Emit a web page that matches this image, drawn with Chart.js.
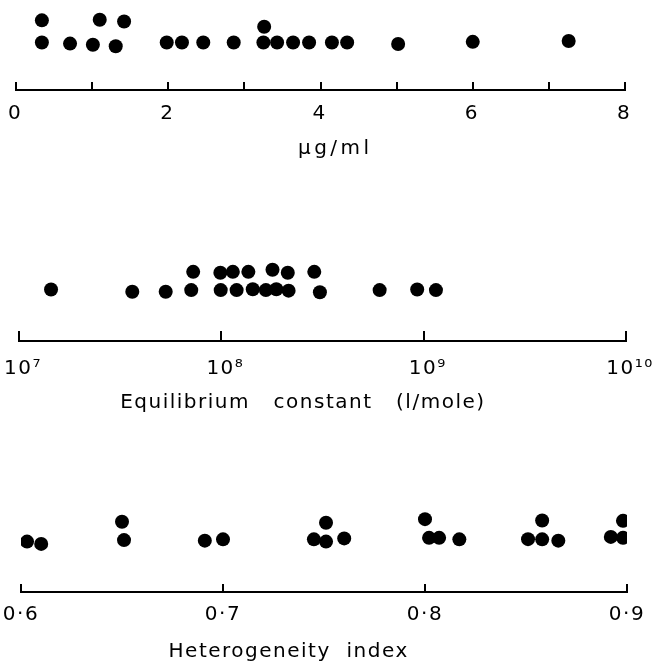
<!DOCTYPE html>
<html>
<head>
<meta charset="utf-8">
<script src="https://cdn.jsdelivr.net/npm/chart.js@4.4.1/dist/chart.umd.min.js"></script>
<style>
  html, body { margin: 0; padding: 0; background: #fff; overflow: hidden; }
  body { width: 655px; height: 661px; position: relative; }
  canvas { position: absolute; left: 0; }
</style>
</head>
<body>
<canvas id="c1" width="655" height="163" style="top:0"></canvas>
<canvas id="c2" width="655" height="252" style="top:165px"></canvas>
<canvas id="c3" width="655" height="246" style="top:420px"></canvas>
<script>
// ---- data ----
// top panel: concentration (µg/ml); row = stacking level of each dot
const concX   = [0.34, 0.71, 1.01, 1.31, 1.98, 2.18, 2.46, 2.86, 3.25, 3.43, 3.64, 3.85, 4.15, 4.35, 5.02, 6.00, 7.26,
                 0.34, 1.10, 1.42, 3.26];
const concRow = [0, -0.05, -0.1, -0.17, 0, 0, 0, 0, 0, 0, 0, 0, 0, 0, -0.07, 0.03, 0.07,
                 1, 1.03, 0.95, 0.71];
const concTickLabels = ['0', '', '2', '', '4', '', '6', '', '8'];

// middle panel: equilibrium constant (l/mole), log scale
const kX   = [1.44e7, 3.63e7, 5.31e7, 7.10e7, 9.93e7, 1.19e8, 1.43e8, 1.66e8, 1.87e8, 2.15e8, 3.07e8, 6.06e8, 9.29e8, 1.15e9,
              7.26e7, 9.89e7, 1.14e8, 1.36e8, 1.79e8, 2.13e8, 2.88e8];
const kRow = [0.03, -0.09, -0.09, 0, 0, 0, 0.05, 0, 0.05, -0.03, -0.12, 0, 0.03, 0,
              1, 0.95, 1, 1, 1.12, 0.95, 1];
const kDecades    = [1e7, 1e8, 1e9, 1e10];
const kTickLabels = ['10⁷', '10⁸', '10⁹', '10¹⁰'];

// bottom panel: heterogeneity index
const hetX   = [0.603, 0.610, 0.651, 0.691, 0.700, 0.745, 0.751, 0.760, 0.802, 0.807, 0.817, 0.851, 0.858, 0.866, 0.892, 0.898,
                0.650, 0.751, 0.800, 0.858, 0.898];
const hetRow = [-0.05, -0.17, 0.03, 0, 0.07, 0.07, -0.05, 0.12, 0.15, 0.15, 0.07, 0.08, 0.07, 0, 0.2, 0.15,
                1, 0.95, 1.14, 1.07, 1.05];
const hetTickLabels = ['0·6', '0·7', '0·8', '0·9'];

const FONT = "'DejaVu Sans', sans-serif";

// the lettering on the original is widely spaced
const spacing = {
  id: 'spacing',
  beforeLayout(chart, args, opts) { chart.ctx.letterSpacing = opts.value; },
  beforeDraw(chart, args, opts) { chart.ctx.letterSpacing = opts.value; }
};

// titles are not centred under the axis in the original: nudge with spaces
function shifted(text, n) {
  return n > 0 ? ' '.repeat(n) + text : text + ' '.repeat(-n);
}

function xAxis(o) {
  return {
    type: o.type,
    position: 'bottom',
    min: o.min,
    max: o.max,
    afterBuildTicks: o.afterBuildTicks,
    afterFit(s) { s.paddingLeft = 0; s.paddingRight = 0; },
    border: { display: true, color: '#000', width: 2 },
    grid: { drawOnChartArea: false, drawTicks: true, tickLength: -o.tick, color: '#000', lineWidth: 2 },
    ticks: {
      stepSize: o.step,
      autoSkip: false,
      maxRotation: 0,
      color: '#000',
      padding: o.pad,
      font: { family: FONT, size: 20 },
      callback: o.label
    },
    title: {
      display: true,
      text: shifted(o.title, o.shift),
      color: '#000',
      font: { family: FONT, size: 20 },
      padding: { top: o.titleTop, bottom: 2 }
    }
  };
}

function dotPlot(id, xs, rows, x, yMin, yMax, left, right, letter) {
  return new Chart(document.getElementById(id), {
    type: 'scatter',
    data: {
      datasets: [{
        data: xs.map((v, i) => ({ x: v, y: rows[i] })),
        backgroundColor: '#000',
        borderWidth: 0,
        pointRadius: 7,
        pointHoverRadius: 7
      }]
    },
    options: {
      responsive: false,
      animation: false,
      events: [],
      layout: { padding: { left: left, right: right, top: 0, bottom: 0 } },
      plugins: {
        legend: { display: false },
        tooltip: { enabled: false },
        spacing: { value: letter }
      },
      scales: {
        x: x,
        y: { display: false, min: yMin, max: yMax }
      }
    },
    plugins: [spacing]
  });
}

dotPlot('c1', concX, concRow, xAxis({
  type: 'linear', min: 0, max: 8, step: 1, tick: 8, pad: 19.4,
  label: (v, i) => concTickLabels[i],
  title: 'μg/ml', titleTop: -7.8, shift: 3
}), -2.146, 1.604, 16, 30, '3.5px');

dotPlot('c2', kX, kRow, xAxis({
  type: 'logarithmic', min: 1e7, max: 1e10, tick: 10, pad: 26,
  afterBuildTicks: s => { s.ticks = kDecades.map(v => ({ value: v })); },
  // small pad on the left so the "10" sits over the tick, exponent hanging right
  label: (v, i) => '\u2004' + kTickLabels[i],
  title: 'Equilibrium   constant   (l/mole)', titleTop: -16, shift: -5
}), -2.789, 6.474, 19, 29, '1.5px');

dotPlot('c3', hetX, hetRow, xAxis({
  type: 'linear', min: 0.6, max: 0.9, step: 0.1, tick: 8, pad: 18.5,
  label: (v, i) => hetTickLabels[i],
  title: 'Heterogeneity  index', titleTop: -5, shift: -9
}), -2.716, 6.015, 21, 28, '1.5px');
</script>
</body>
</html>
